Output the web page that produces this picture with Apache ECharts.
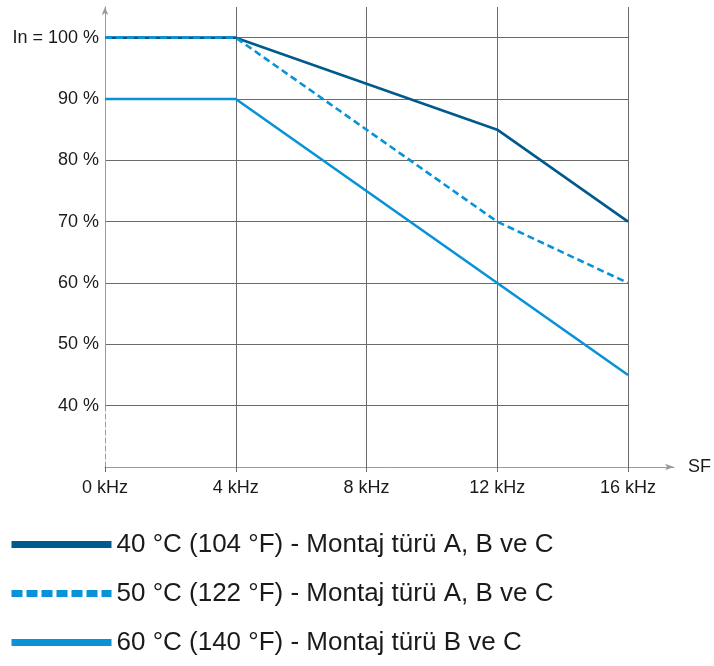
<!DOCTYPE html>
<html>
<head>
<meta charset="utf-8">
<script src="https://cdn.jsdelivr.net/npm/echarts@6/dist/echarts.min.js"></script>
<style>html,body{margin:0;padding:0;background:#fff}#c{width:714px;height:666px}</style>
</head>
<body>
<div id="c"></div>
<script>
// ---- data ----
const xValues = [0, 4, 12, 16];               // switching frequency, kHz
const s40 = [100, 100, 85, 70];               // 40 °C
const s50 = [100, 100, 70, 60];               // 50 °C
const s60 = [90, 90, 60, 45];                 // 60 °C
const seriesNames = [
  '40 °C (104 °F) - Montaj türü A, B ve C',
  '50 °C (122 °F) - Montaj türü A, B ve C',
  '60 °C (140 °F) - Montaj türü B ve C'
];
const xTickUnit = ' kHz';
const yTopLabel = 'In = 100 %';
const xAxisName = 'SF';

// ---- styling ----
const FONT = '"Liberation Sans", Arial, sans-serif';
const DARK = '#005a8d';
const LIGHT = '#0892d8';
const GRID = '#6a6a6a';
const AXIS = '#9a9a9a';
const TXT = '#1a1a1a';

function pairs(vals) { return xValues.map((x, i) => [x, vals[i]]); }

const chart = echarts.init(document.getElementById('c'), null, {renderer: 'canvas'});
chart.setOption({
  animation: false,
  backgroundColor: '#fff',
  grid: [
    {left: 105, right: 86, top: 7, bottom: 199, containLabel: false},
    {left: 105, right: 40, top: 7, bottom: 199, containLabel: false},
    {left: 105, right: 86, top: 7, bottom: 260, containLabel: false}
  ],
  xAxis: [
    {
      gridIndex: 0, type: 'value', min: 0, max: 16, interval: 4,
      axisLine: {show: false},
      axisTick: {show: true, length: 5, lineStyle: {color: GRID, width: 1}},
      splitLine: {show: true, showMinLine: false, lineStyle: {color: GRID, width: 1}},
      axisLabel: {formatter: v => v + xTickUnit, fontSize: 18, fontFamily: FONT, color: TXT, margin: 12}
    },
    {
      gridIndex: 1, type: 'value', min: 0, max: 16,
      axisLine: {show: true, symbol: ['none', 'arrow'], symbolSize: [5, 9], lineStyle: {color: AXIS, width: 1}},
      axisTick: {show: false}, axisLabel: {show: false}, splitLine: {show: false},
      name: xAxisName, nameLocation: 'end', nameGap: 14,
      nameTextStyle: {fontSize: 18, fontFamily: FONT, color: TXT}
    },
    {
      gridIndex: 2, type: 'value', min: 0, max: 16, show: false
    }
  ],
  yAxis: [
    {
      gridIndex: 0, type: 'value', min: 30, max: 105, interval: 10,
      axisLine: {show: true, lineStyle: {color: AXIS, width: 1, type: [5, 3]}},
      axisTick: {show: false},
      splitLine: {show: true, showMinLine: false, showMaxLine: false, lineStyle: {color: GRID, width: 1}},
      axisLabel: {
        fontSize: 18, fontFamily: FONT, color: TXT, margin: 6,
        formatter: v => (v === 100 ? yTopLabel : (v >= 40 && v < 100 ? v + ' %' : ''))
      }
    },
    {gridIndex: 1, type: 'value', min: 30, max: 105, show: false},
    {
      gridIndex: 2, type: 'value', min: 40, max: 105,
      axisLine: {show: true, symbol: ['none', 'arrow'], symbolSize: [5, 8], lineStyle: {color: AXIS, width: 1}},
      axisTick: {show: false}, axisLabel: {show: false}, splitLine: {show: false}
    }
  ],
  legend: {
    orient: 'vertical', left: 8, top: 529, padding: 0,
    itemWidth: 100, itemHeight: 7, itemGap: 18,
    itemStyle: {opacity: 0},
    lineStyle: {width: 7},
    textStyle: {fontSize: 26, fontFamily: FONT, color: TXT, lineHeight: 31},
    data: [
      {name: seriesNames[0]},
      {name: seriesNames[1], lineStyle: {type: [11, 4], width: 7}},
      {name: seriesNames[2]}
    ]
  },
  series: [
    {
      name: seriesNames[0], type: 'line', xAxisIndex: 0, yAxisIndex: 0,
      data: pairs(s40), symbol: 'none', color: DARK,
      lineStyle: {color: DARK, width: 2.6}
    },
    {
      name: seriesNames[1], type: 'line', xAxisIndex: 0, yAxisIndex: 0,
      data: pairs(s50), symbol: 'none', color: LIGHT,
      lineStyle: {color: LIGHT, width: 2.6, type: [7, 4]}
    },
    {
      name: seriesNames[2], type: 'line', xAxisIndex: 0, yAxisIndex: 0,
      data: pairs(s60), symbol: 'none', color: LIGHT,
      lineStyle: {color: LIGHT, width: 2.6}
    }
  ]
});
</script>
</body>
</html>
